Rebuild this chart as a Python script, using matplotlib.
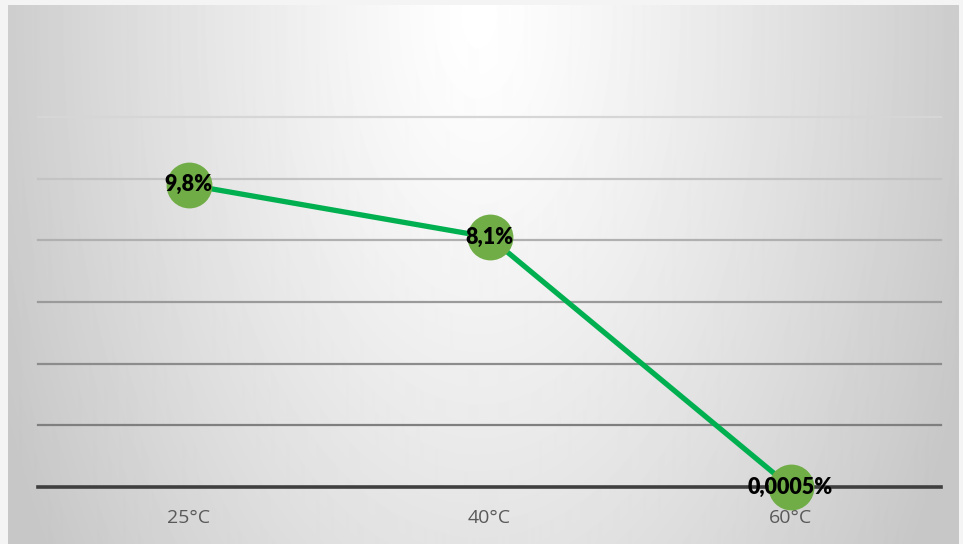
import numpy as np
from matplotlib import pyplot as plt

# temperature series
categories = ['25°C', '40°C', '60°C']
values = [9.8, 8.1, 0.0005]
labels = ['9,8%', '8,1%', '0,0005%']
y_ticks = [0, 2, 4, 6, 8, 10, 12]

W, H = 963, 544
fig = plt.figure(figsize=(W / 100, H / 100), dpi=100)
fig.patch.set_facecolor('#f4f4f4')

# radial grey gradient, white near the top centre, stretched vertically
x0, y0 = 8, 5
yy, xx = np.mgrid[0:H - y0, 0:W - x0 - 5]
d = np.sqrt(((xx - 470) / 540.0) ** 2 + ((yy - 10) / 1000.0) ** 2)
shade = np.clip(1.0 - 0.23 * d ** 1.2, 0.78, 1.0)
bg = fig.add_axes([x0 / W, 0, (W - x0 - 5) / W, (H - y0) / H])
bg.imshow(shade, cmap='gray', vmin=0, vmax=1, aspect='auto', interpolation='bilinear')
bg.axis('off')

# plot area between the outer gridlines
left, right, top, bottom = 38, 941, 117, 487
ax = fig.add_axes([left / W, 1 - bottom / H, (right - left) / W, (bottom - top) / H])
ax.patch.set_alpha(0)
ax.set_xlim(-0.5, 2.5)
ax.set_ylim(0, 12)
for s in ax.spines.values():
    s.set_visible(False)

grid_colors = ['#3f3f3f', '#7f7f7f', '#8c8c8c', '#9a9a9a', '#b0b0b0', '#c4c4c4', '#d6d6d6']
for yv, c in zip(y_ticks, grid_colors):
    ax.axhline(yv, color=c, lw=2.6 if yv == 0 else 1.6, zorder=1, clip_on=False)

xs = np.arange(len(categories))
ax.plot(xs, values, color='#00b050', lw=3.8, zorder=2, clip_on=False)
ax.plot(xs, values, 'o', color='#70ad47', markersize=33, markeredgewidth=0, zorder=3, clip_on=False)
for x, v, t in zip(xs, values, labels):
    ax.text(x, v, t, ha='center', va='center', fontsize=15.5, fontweight='heavy',
            family=['Lato', 'DejaVu Sans'], color='#000000', zorder=4)

ax.set_yticks([])
ax.set_xticks(xs)
ax.set_xticklabels(categories, fontsize=14, color='#595959', family=['Open Sans', 'DejaVu Sans'])
ax.tick_params(axis='x', length=0, pad=16)

fig.savefig('out.png', dpi=100)
